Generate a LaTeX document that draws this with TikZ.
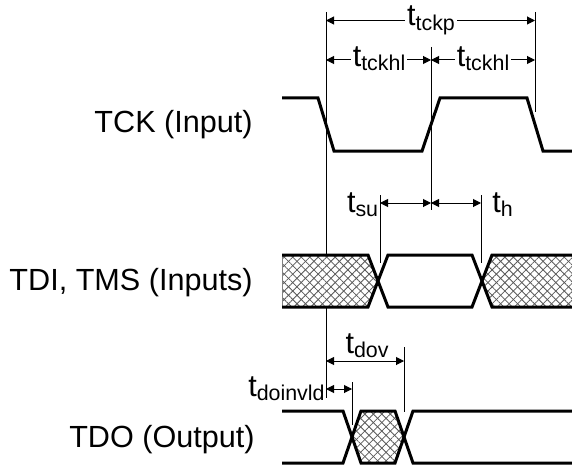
\documentclass[tikz,border=0pt]{standalone}
\usepackage{fontspec}
\setmainfont{Liberation Sans}
\usetikzlibrary{arrows.meta,patterns.meta}
\newcommand{\tsub}[1]{t\raisebox{-2pt}{\fontsize{10.7}{12}\selectfont #1}}

\begin{document}
\begin{tikzpicture}[x=0.5pt,y=-0.5pt,
    wave/.style={line width=1.5pt},
    guide/.style={line width=0.5pt},
    dim_arrow/.style={line width=0.5pt,{Triangle[length=4pt,width=4pt]}-{Triangle[length=4pt,width=4pt]}},
    lbl/.style={font=\fontsize{15.3}{18}\selectfont,inner sep=0pt},
    cut_lbl/.style={lbl,fill=white,inner xsep=1pt},
    hatch/.style={fill=white,
        postaction={pattern={Lines[angle=45,distance=3pt,line width=0.4pt]},pattern color=black!65},
        postaction={pattern={Lines[angle=-45,distance=3pt,line width=0.4pt]},pattern color=black!65}}]
    \useasboundingbox (0,0) rectangle (572,465);

    % edge markers
    \coordinate (f1) at (326,12);   \coordinate (f1b) at (326,398);
    \coordinate (r1) at (431,47);   \coordinate (r1b) at (431,210);
    \coordinate (f2) at (535,12);   \coordinate (f2b) at (535,112);
    \coordinate (su) at (380,195);  \coordinate (sub) at (380,263);
    \coordinate (h) at (481,195);   \coordinate (hb) at (481,263);
    \coordinate (iv) at (352,382);  \coordinate (ivb) at (352,425);
    \coordinate (ov) at (404,347);  \coordinate (ovb) at (404,412);
    \coordinate (lv_p) at (0,20.5);
    \coordinate (lv_hl) at (0,60);
    \coordinate (lv_su) at (0,203);
    \coordinate (lv_dov) at (0,361);
    \coordinate (lv_inv) at (0,389);

    \draw[guide] (f1) -- (f1b);
    \draw[guide] (r1) -- (r1b);
    \draw[guide] (f2) -- (f2b);
    \draw[guide] (su) -- (sub);
    \draw[guide] (h) -- (hb);
    \draw[guide] (iv) -- (ivb);
    \draw[guide] (ov) -- (ovb);

    % hatched (invalid) data
    \path[hatch] (282,255) -- (368,255) -- (378,281) -- (368,307) -- (282,307) -- cycle;
    \path[hatch] (482,281) -- (492,255) -- (572,255) -- (572,307) -- (492,307) -- cycle;
    \path[hatch] (352,437) -- (361,411) -- (395,411) -- (404,437) -- (395,463) -- (361,463) -- cycle;
    \draw[guide,gray] (282,255) -- (282,307);

    % waveforms
    \draw[wave] (282,98) -- (318,98) -- (334,151) -- (422,151) -- (440,98) -- (527,98) -- (543,151) -- (572,151);
    \draw[wave] (282,255) -- (368,255) -- (388,307) -- (472,307) -- (492,255) -- (572,255);
    \draw[wave] (282,307) -- (368,307) -- (388,255) -- (472,255) -- (492,307) -- (572,307);
    \draw[wave] (282,411) -- (343,411) -- (361,463) -- (395,463) -- (413,411) -- (572,411);
    \draw[wave] (282,463) -- (343,463) -- (361,411) -- (395,411) -- (413,463) -- (572,463);

    % timing arrows
    \draw[dim_arrow] (f1|-lv_p) -- (f2|-lv_p);
    \draw[dim_arrow] (f1|-lv_hl) -- (r1|-lv_hl);
    \draw[dim_arrow] (r1|-lv_hl) -- (f2|-lv_hl);
    \draw[dim_arrow] (su|-lv_su) -- (r1|-lv_su);
    \draw[dim_arrow] (r1|-lv_su) -- (h|-lv_su);
    \draw[dim_arrow] (f1|-lv_dov) -- (ov|-lv_dov);
    \draw[dim_arrow] (f1|-lv_inv) -- (iv|-lv_inv);

    \node[cut_lbl,anchor=base] (tckp) at (431,26) {\tsub{tckp}};
    \node[cut_lbl,anchor=base] (hl1) at (379,66.5) {\tsub{tckhl}};
    \node[cut_lbl,anchor=base] (hl2) at (483,66.5) {\tsub{tckhl}};
    \node[lbl,anchor=base east] (tsu) at (378.5,212) {\tsub{su}};
    \node[lbl,anchor=base west] (th) at (492,212) {\tsub{h}};
    \node[lbl,anchor=base] (tdov) at (367,353) {\tsub{dov}};
    \node[lbl,anchor=base east] (tinv) at (325,396) {\tsub{doinvld}};

    % signal names
    \node[lbl,anchor=base east] (tck) at (253,133) {TCK (Input)};
    \node[lbl,anchor=base east] (tdi) at (253,290) {TDI, TMS (Inputs)};
    \node[lbl,anchor=base east] (tdo) at (255,447) {TDO (Output)};
\end{tikzpicture}
\end{document}
